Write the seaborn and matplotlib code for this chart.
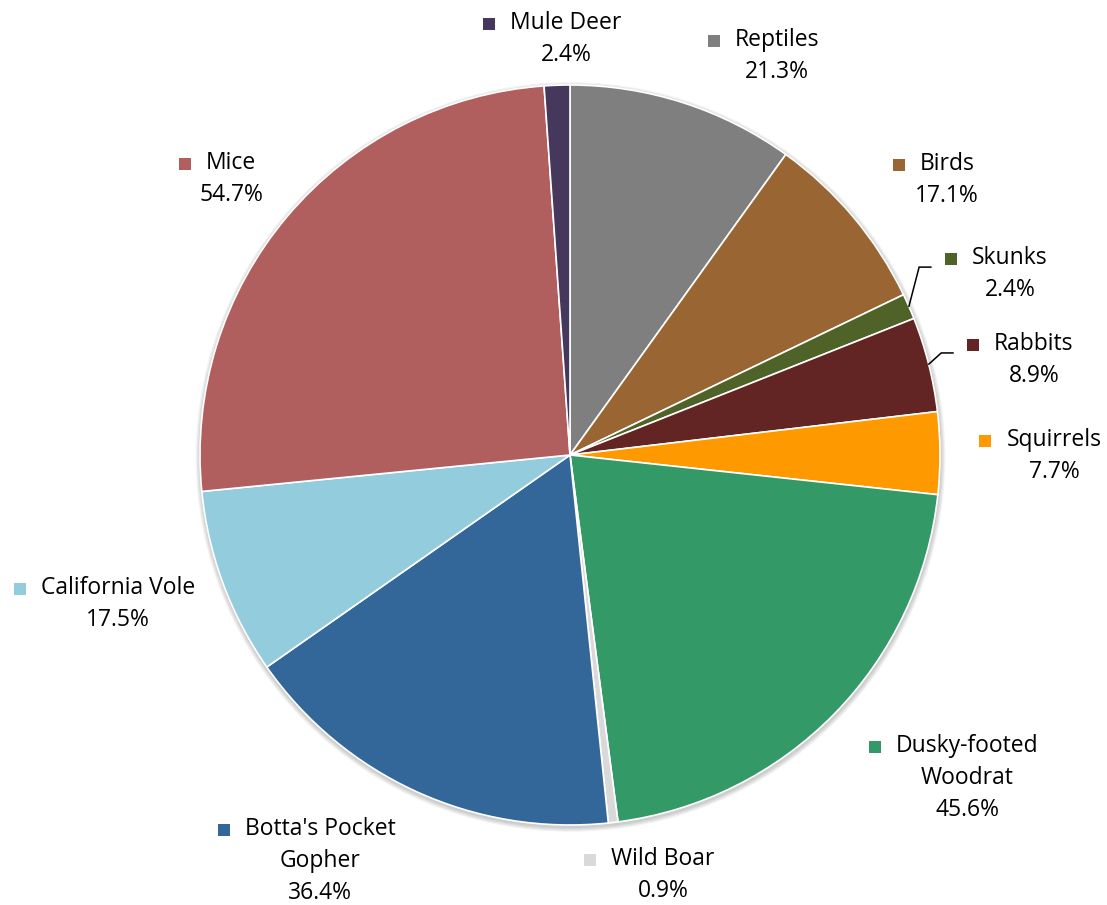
import matplotlib
matplotlib.use("Agg")
import matplotlib.pyplot as plt
from matplotlib.patches import Rectangle, Circle
import seaborn as sns
import numpy as np

# ---- data ----
categories = ["Reptiles", "Birds", "Skunks", "Rabbits", "Squirrels",
              "Dusky-footed\nWoodrat", "Wild Boar", "Botta's Pocket\nGopher",
              "California Vole", "Mice", "Mule Deer"]
values = [21.3, 17.1, 2.4, 8.9, 7.7, 45.6, 0.9, 36.4, 17.5, 54.7, 2.4]
colors = ["#7F7F7F", "#996633", "#4F6228", "#632523", "#FF9900",
          "#339966", "#D9D9D9", "#336699", "#93CDDD", "#B05E5E", "#46375C"]

# ---- layout (label centres, in pie-radius units relative to centre) ----
label_pos = [(0.559, 1.086), (1.019, 0.751), (1.189, 0.497), (1.254, 0.265),
             (1.308, 0.005), (1.073, -0.865), (0.251, -1.127), (-0.676, -1.089),
             (-1.222, -0.395), (-0.916, 0.754), (-0.011, 1.132)]
leader = [False, False, True, True, False, False, False, False, False, False, False]

sns.set_theme(style="white")
plt.rcParams["font.family"] = ["Open Sans", "DejaVu Sans"]

W, H, DPI = 1107, 905, 100
fig = plt.figure(figsize=(W / DPI, H / DPI), dpi=DPI)
ax = fig.add_axes([0, 0, 1, 1])
R_PX = 370.0
cx_px, cy_px = 570.0, 455.0

px = 1.0 / R_PX  # one pixel in data units

# soft shadow
for k, a in enumerate([0.05, 0.05, 0.05, 0.05]):
    ax.add_patch(Circle((0.5 * px, -2 * px), 1.0 + (k + 1) * 1.2 * px,
                        color="black", alpha=a, lw=0, zorder=0))

wedges, _ = ax.pie(values, colors=colors, startangle=90, counterclock=False,
                   radius=1.0, center=(0, 0), frame=True,
                   wedgeprops=dict(edgecolor="white", linewidth=1.2))
ax.set_xlim(-cx_px / R_PX, (W - cx_px) / R_PX)
ax.set_ylim(-(H - cy_px) / R_PX, cy_px / R_PX)
ax.set_axis_off()

FS = 16.5
LINE = 32 * px
total = sum(values)
first_texts = []
for i, (name, val) in enumerate(zip(categories, values)):
    lx, ly = label_pos[i]
    lines = name.split("\n") + [f"{val:.1f}%"]
    n = len(lines)
    for j, s in enumerate(lines):
        y = ly + ((n - 1) / 2 - j) * LINE
        t = ax.text(lx, y, s, ha="center", va="center_baseline", fontsize=FS,
                    color="black", zorder=5)
        if j == 0:
            first_texts.append(t)

fig.canvas.draw()
renderer = fig.canvas.get_renderer()
inv = ax.transData.inverted()
cum = 0.0
for i, t in enumerate(first_texts):
    bb = t.get_window_extent(renderer)
    # square marker left of the name
    sq = 12
    left_disp = bb.x0 - 15 - sq
    ymid_disp = (bb.y0 + bb.y1) / 2 - 1
    (x0, y0) = inv.transform((left_disp, ymid_disp - sq / 2))
    ax.add_patch(Rectangle((x0, y0), sq * px, sq * px, color=colors[i], lw=0, zorder=5))
    mid = cum + values[i] / 2
    cum += values[i]
    if leader[i]:
        ang = np.deg2rad(90 - mid / total * 360)
        sx, sy = np.cos(ang), np.sin(ang)
        ex, ey = inv.transform((left_disp - 14, ymid_disp - 8))
        kx, ky = inv.transform((left_disp - 26, ymid_disp - 8))
        ax.plot([sx, kx, ex], [sy, ky, ey], color="black", lw=1.1, zorder=4,
                solid_joinstyle="miter")

fig.savefig("out.png", dpi=DPI, facecolor="white")
